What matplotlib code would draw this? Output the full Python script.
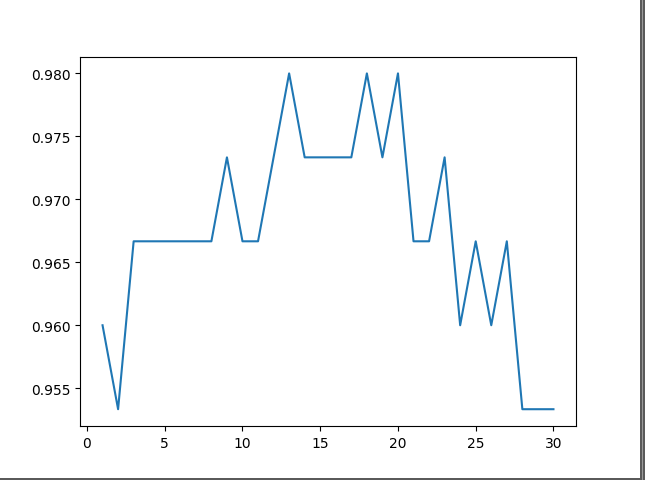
import matplotlib
matplotlib.use("Agg")
import matplotlib.pyplot as plt
from matplotlib.patches import Rectangle

k_values = list(range(1, 31))
scores = [144, 143, 145, 145, 145, 145, 145, 145, 146, 145,
          145, 146, 147, 146, 146, 146, 146, 147, 146, 147,
          145, 145, 146, 144, 145, 144, 145, 143, 143, 143]
accuracy = [s / 150 for s in scores]

W, H = 645, 481
fig = plt.figure(figsize=(W / 100, H / 100), dpi=100)
ax = fig.add_axes([80 / W, (H - 427) / H, (576 - 80) / W, (427 - 57.6) / H])
ax.plot(k_values, accuracy)

# screenshot edge (window border on right and bottom)
fig.patches.append(Rectangle((640 / W, 0), 5 / W, 1, transform=fig.transFigure,
                             facecolor="#5a5a5a", edgecolor="none"))
fig.patches.append(Rectangle((642 / W, 0), 1 / W, 1, transform=fig.transFigure,
                             facecolor="#9a9a9a", edgecolor="none"))
fig.patches.append(Rectangle((0, 0), 640 / W, 2 / H, transform=fig.transFigure,
                             facecolor="#5a5a5a", edgecolor="none"))

fig.savefig("out.png", dpi=100)
